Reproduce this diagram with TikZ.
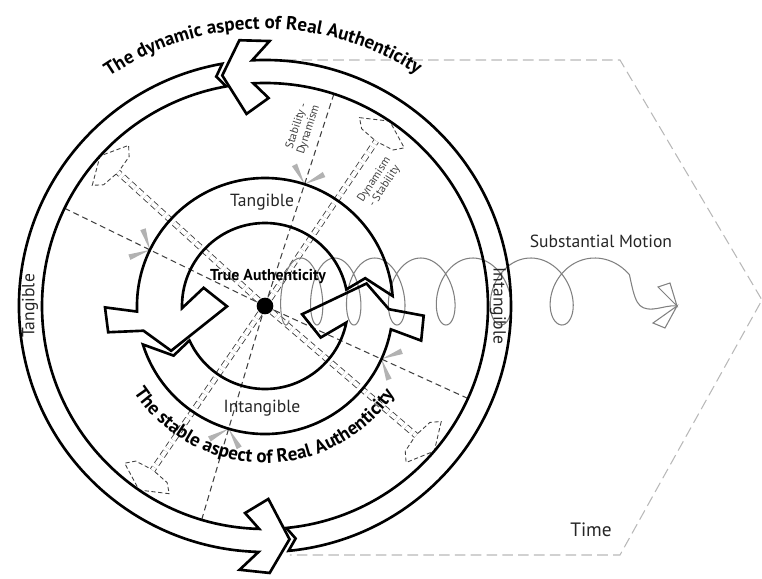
\documentclass[tikz,border=0pt]{standalone}
\usepackage{fontspec}
\setmainfont{PT Sans}
\usetikzlibrary{decorations.text}

\begin{document}
\begin{tikzpicture}[x=0.02cm, y=0.02cm,
  band/.style={line width=1.5pt, line join=miter, black},
  dline/.style={line width=0.6pt, black!75, dash pattern=on 3.4pt off 2.2pt},
  dbl/.style={dline, double=white, double distance=2.4pt, line width=0.5pt},
  dtip/.style={line width=0.5pt, black!75, dash pattern=on 2.4pt off 1.5pt, line join=miter},
  gtip/.style={fill=black!30},
  frame/.style={black!28, line width=0.6pt, dash pattern=on 6pt off 3pt},
  spiral/.style={black!50, line width=0.6pt},
  lbl/.style={font=\fontsize{10}{12}\selectfont, text=black!85, inner sep=0pt},
  small/.style={font=\fontsize{6.5}{7}\selectfont, text=black!75, align=center, inner sep=0pt}]
  \useasboundingbox (-265,-273) rectangle (497,306);

  % time frame
  \draw[frame] (5,246) -- (355,246) -- (497,6) -- (355,-249) -- (25,-249);
  \node[lbl, font=\fontsize{11}{13}\selectfont] (time) at (326,-224) {Time};

  \node[circle, fill=black, minimum size=9.5pt, inner sep=0pt] (core) at (0,0) {};

  % dashed rays with grey tips
  \foreach \a in {154,72,-24.5,253.5} {
    \draw[dline] (\a:223) -- (core);
    \fill[gtip] (\a:128) -- +(\a-53:22) -- +(\a-38:22) -- cycle;
    \fill[gtip] (\a:128) -- +(\a+38:22) -- +(\a+53:22) -- cycle;
  }
  % double rays with open heads
  \foreach \a in {137.7,56,-40.6,235.6} {
    \draw[dbl] (core) -- (\a:199);
    \draw[dtip, rotate=\a] (199,3) -- (201,19) -- (209,27) -- (223,0)
      -- (209,-27) -- (201,-19) -- (199,-3);
  }
  \node[small, rotate=72] (stadyn) at (78:182) {Stability -\\Dynamism};
  \node[small, rotate=57] (dynsta) at (47:168) {Dynamism\\- Stability};

  % substantial motion
  \draw[spiral] plot[variable=\t, domain=150:2580, samples=500, smooth]
    ({7.75+25*(\t/360)+3*(\t/360)^2+(9.95+2.39*(\t/360))*sin(\t)}, {14.5+33.5*cos(\t)})
    .. controls (370,5) and (372,-4) .. (388,-3) .. controls (398,-2) and (404,1) .. (412,0)
    coordinate (motion);
  \draw[spiral, line join=miter] (motion) -- (393,19) -- (405,23) -- cycle;
  \draw[spiral, line join=miter] (motion) -- (388,-17) -- (400,-22) -- cycle;
  \node[lbl] (subst) at (336,65) {Substantial Motion};

  % outer ring
  \draw[band] (100:246) arc[start angle=100, end angle=268.5, radius=246]
    -- (264.5:265) -- (271:267) -- (276:234.5) -- (271:193) -- (264.5:208) -- (268.5:223)
    arc[start angle=268.5, end angle=100, radius=223] -- (102:234.5) -- cycle;
  \draw[band] (275.5:246) arc[start angle=275.5, end angle=453, radius=246]
    -- (449:265) -- (455.5:267) -- (460.5:234.5) -- (455.5:193) -- (449:208) -- (453:223)
    arc[start angle=453, end angle=275.5, radius=223] -- (277.5:234.5) -- cycle;
  \node[lbl, rotate=90] (tangOut) at (180:235) {Tangible};
  \node[lbl, rotate=-90] (intOut) at (0:233) {Intangible};

  % middle ring
  \draw[band] (4.5:128) arc[start angle=4.5, end angle=182.5, radius=128]
    -- (180.5:160) -- (189.5:159) -- (191.5:124) -- (205.5:104) -- (180.5:38) -- (163.5:64) -- (181.5:83)
    arc[start angle=181.5, end angle=11.5, radius=83] -- (15.5:104) -- cycle;
  \draw[band] (197.5:128) arc[start angle=197.5, end angle=349.5, radius=128]
    -- (347.5:160) -- (356.5:159) -- (358.5:124) -- (372.5:104) -- (347.5:38) -- (330.5:64) -- (348.5:83)
    arc[start angle=348.5, end angle=204.5, radius=83] -- (208.5:104) -- cycle;
  \node[lbl] (tangIn) at (-3,104) {Tangible};
  \node[lbl] (intIn) at (-3,-102) {Intangible};
  \node[lbl, font=\fontsize{9}{11}\selectfont\bfseries, text=black] (truth) at (3,30) {True Authenticity};

  % curved titles
  \path[decorate, decoration={text along path, text align=center,
      text={|\fontsize{10.8}{12}\selectfont\bfseries|The dynamic aspect of Real Authenticity}}]
    (128:277) arc[start angle=128, end angle=53, radius=277];
  \path[decorate, decoration={text along path, text align=center,
      text={|\fontsize{10.8}{12}\selectfont\bfseries|The stable aspect of Real Authenticity}}]
    (206:157) arc[start angle=206, end angle=333, radius=157];
\end{tikzpicture}
\end{document}
